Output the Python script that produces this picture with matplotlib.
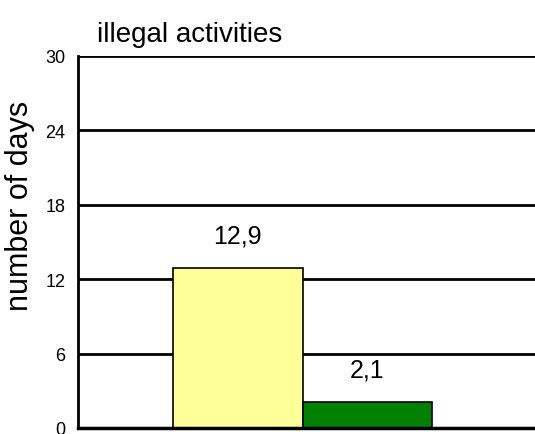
import matplotlib.pyplot as plt

categories = ['group 1', 'group 2']
days = [12.9, 2.1]
value_labels = ['12,9', '2,1']
colors = ['#FFFF99', '#008000']
yticks = [0, 6, 12, 18, 24, 30]

plt.rcParams['font.family'] = 'Liberation Sans'

fig = plt.figure(figsize=(5.35, 4.35), dpi=100)
ax = fig.add_axes([78 / 535, 6 / 435, 1 - 78 / 535, 372 / 435])

# horizontal rules behind the bars
for t in yticks[1:]:
    ax.axhline(t, color='black', lw=2, zorder=0)

x = list(range(len(categories)))
bars = ax.bar(x, days, width=1.0, color=colors, edgecolor='black', linewidth=1.2, zorder=2)

for b, txt in zip(bars, value_labels):
    ax.annotate(txt, (b.get_x() + b.get_width() / 2, b.get_height()),
                xytext=(0, 15), textcoords='offset points', ha='center', va='bottom',
                fontsize=18)

ax.set_xlim(-1.234, 2.295)
ax.set_ylim(0, 30)
ax.set_yticks(yticks)
ax.set_yticklabels([str(t) for t in yticks], fontsize=13)
ax.set_xticks([])
ax.tick_params(axis='y', length=0, pad=9)

for side in ['top', 'right']:
    ax.spines[side].set_visible(False)
ax.spines['left'].set_linewidth(2)
ax.spines['bottom'].set_linewidth(2.5)

ax.set_ylabel('number of days', fontsize=22)
ax.yaxis.set_label_coords(-0.093, 0.6)

fig.text(190 / 535, 1 - 42 / 435, 'illegal activities', ha='center', va='baseline',
         fontsize=20)

fig.savefig('out.png', dpi=100)
